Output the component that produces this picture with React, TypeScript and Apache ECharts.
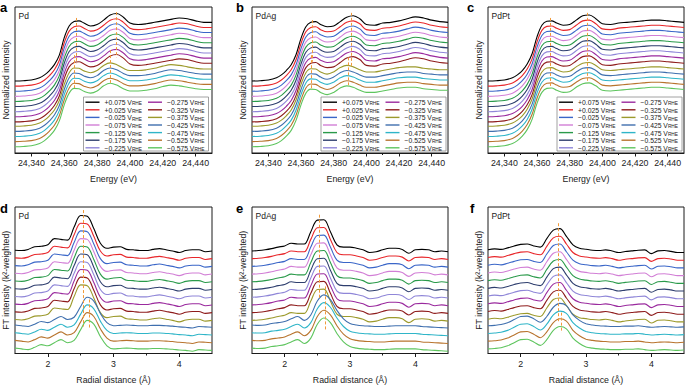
import React, { useEffect, useRef } from 'react';
import * as echarts from 'echarts';

// ---------- data ----------
const potentials = ['+0.075', '+0.025', '\u22120.025', '\u22120.075', '\u22120.125', '\u22120.175', '\u22120.225',
  '\u22120.275', '\u22120.325', '\u22120.375', '\u22120.425', '\u22120.475', '\u22120.525', '\u22120.575'];

const seriesColors = ['#000000', '#e8262a', '#3a66c8', '#d27fd6', '#2a9a4a', '#2e3e6e', '#8f86d8',
  '#9a2a9e', '#8e1c1c', '#9c9a2c', '#3f6fae', '#2fb5c8', '#b8742e', '#5ec55e'];

const energy = [24330, 24335, 24340, 24345, 24348, 24351, 24354, 24357, 24360, 24363, 24366, 24369, 24372, 24376,
  24380, 24384, 24388, 24392, 24396, 24400, 24405, 24410, 24415, 24420, 24425, 24430, 24435, 24440, 24445, 24450];

const radialDistance = [1.5, 1.6, 1.7, 1.8, 1.9, 2.0, 2.1, 2.2, 2.3, 2.4, 2.5, 2.6, 2.7, 2.8, 2.9, 3.0, 3.1, 3.2,
  3.3, 3.4, 3.5, 3.6, 3.7, 3.8, 3.9, 4.0, 4.1, 4.2, 4.3, 4.4, 4.5];

// vertical offsets used to stack the spectra (top curve first)
const xanesOffsets = [0.91, 0.84, 0.77, 0.70, 0.63, 0.56, 0.49, 0.42, 0.35, 0.28, 0.21, 0.14, 0.07, 0];
const exafsOffsets = [1.3, 1.2, 1.1, 1.0, 0.9, 0.8, 0.7, 0.6, 0.5, 0.4, 0.3, 0.2, 0.1, 0];

const energyTickLabels = [24340, 24360, 24380, 24400, 24420, 24440];
const energyMinorTicks = [24350, 24370, 24390, 24410, 24430];
const radialTickLabels = [2, 3, 4];
const radialMinorTicks = [2.5, 3.5];

// XANES spectra (normalized intensity) – upper potentials / lower potentials
const pdXanesUpper = [0.076, 0.08, 0.09, 0.12, 0.16, 0.22, 0.30, 0.43, 0.67, 0.83, 0.89, 0.90, 0.87, 0.83, 0.85,
  0.91, 0.98, 1.00, 0.95, 0.87, 0.85, 0.86, 0.88, 0.90, 0.92, 0.94, 0.93, 0.90, 0.88, 0.88];
const pdXanesLower = [0.086, 0.09, 0.10, 0.13, 0.17, 0.23, 0.31, 0.44, 0.66, 0.82, 0.885, 0.88, 0.845, 0.82, 0.85,
  0.92, 0.955, 0.93, 0.88, 0.85, 0.85, 0.86, 0.88, 0.91, 0.93, 0.92, 0.90, 0.88, 0.87, 0.87];
const pdAgXanesUpper = [0.076, 0.08, 0.09, 0.12, 0.16, 0.22, 0.30, 0.44, 0.66, 0.82, 0.88, 0.89, 0.85, 0.82, 0.83,
  0.89, 0.95, 0.97, 0.93, 0.85, 0.84, 0.87, 0.88, 0.90, 0.93, 0.955, 0.94, 0.91, 0.89, 0.88];
const pdAgXanesLower = [0.086, 0.09, 0.10, 0.13, 0.17, 0.23, 0.31, 0.45, 0.66, 0.82, 0.875, 0.87, 0.83, 0.80, 0.83,
  0.89, 0.92, 0.90, 0.86, 0.83, 0.83, 0.85, 0.87, 0.89, 0.90, 0.90, 0.88, 0.87, 0.86, 0.86];
const pdPtXanesUpper = [0.076, 0.08, 0.09, 0.12, 0.16, 0.22, 0.31, 0.45, 0.68, 0.84, 0.895, 0.90, 0.87, 0.84, 0.85,
  0.91, 0.97, 0.98, 0.93, 0.86, 0.85, 0.87, 0.88, 0.89, 0.90, 0.91, 0.91, 0.90, 0.89, 0.88];
const pdPtXanesLower = [0.086, 0.09, 0.10, 0.13, 0.17, 0.23, 0.32, 0.46, 0.68, 0.83, 0.885, 0.89, 0.86, 0.83, 0.84,
  0.90, 0.95, 0.96, 0.92, 0.86, 0.85, 0.86, 0.87, 0.88, 0.89, 0.90, 0.90, 0.89, 0.88, 0.87];

// EXAFS FT magnitudes – upper potentials / lower potentials
const pdExafsUpper = [0.04, 0.035, 0.05, 0.085, 0.09, 0.11, 0.19, 0.18, 0.17, 0.34, 0.49, 0.48, 0.32, 0.13, 0.065,
  0.08, 0.085, 0.05, 0.045, 0.035, 0.035, 0.05, 0.06, 0.045, 0.03, 0.01, 0.035, 0.045, 0.045, 0.02, 0.03];
const pdExafsLower = [0.07, 0.06, 0.05, 0.08, 0.115, 0.10, 0.14, 0.18, 0.14, 0.17, 0.31, 0.43, 0.38, 0.22, 0.10,
  0.06, 0.065, 0.07, 0.065, 0.06, 0.06, 0.065, 0.065, 0.06, 0.055, 0.045, 0.04, 0.03, 0.05, 0.045, 0.04];
const pdAgExafsUpper = [0.03, 0.035, 0.045, 0.06, 0.08, 0.095, 0.13, 0.12, 0.12, 0.28, 0.43, 0.435, 0.28, 0.11, 0.08,
  0.08, 0.065, 0.045, 0.01, 0.02, 0.045, 0.065, 0.065, 0.05, 0.0, 0.045, 0.05, 0.045, 0.02, 0.03, 0.02];
const pdAgExafsLower = [0.07, 0.065, 0.07, 0.09, 0.10, 0.115, 0.15, 0.18, 0.13, 0.20, 0.38, 0.46, 0.40, 0.26, 0.15,
  0.09, 0.07, 0.06, 0.055, 0.05, 0.05, 0.055, 0.06, 0.06, 0.06, 0.06, 0.05, 0.045, 0.04, 0.035, 0.03];
const pdPtExafsUpper = [0.045, 0.057, 0.05, 0.07, 0.095, 0.115, 0.12, 0.095, 0.08, 0.19, 0.30, 0.32, 0.22, 0.11, 0.065,
  0.052, 0.04, 0.035, 0.044, 0.03, 0.01, 0.022, 0.031, 0.04, 0.044, -0.005, 0.031, 0.035, 0.025, 0.01, 0.01];
const pdPtExafsLower = [0.06, 0.065, 0.075, 0.10, 0.14, 0.18, 0.185, 0.15, 0.105, 0.18, 0.30, 0.35, 0.32, 0.20, 0.13,
  0.085, 0.07, 0.06, 0.055, 0.05, 0.05, 0.055, 0.055, 0.06, 0.05, 0.04, 0.045, 0.05, 0.045, 0.04, 0.045];

// peak guide lines: [position, upper value, lower value]
const pdXanesPeaks = [[24367.5, 1.85, 1.23], [24366, 1.34, 0.89], [24391.5, 1.93, 1.31], [24388, 1.41, 0.96]];
const pdAgXanesPeaks = [[24367, 1.82, 1.25], [24366, 1.34, 0.86], [24391, 1.92, 1.18], [24389, 1.31, 0.93]];
const pdPtXanesPeaks = [[24368, 1.85, 0.89], [24391, 1.92, 0.96]];
const pdExafsPeaks = [[2.54, 1.86, 0.35], [2.63, 0.70, 0.33]];
const pdAgExafsPeaks = [[2.53, 1.80, 0.70], [2.62, 0.87, 0.31]];
const pdPtExafsPeaks = [[2.57, 1.69, 0.40], [2.62, 0.53, 0.27]];

// ---------- layout / style ----------
const FONT = '"Liberation Sans", Arial, Helvetica, sans-serif';
const colLefts = [15, 252, 488];
const colWidths = [197, 196, 196];
const rowTops = [7, 207];
const rowHeights = [146, 147];
const letterX = [0, 236, 467, 0, 236, 470];
const legendBoxLefts = [83.5, 321, 557];

const panels = [
  { letter: 'a', sample: 'Pd', kind: 'xanes', upper: pdXanesUpper, lower: pdXanesLower, peaks: pdXanesPeaks },
  { letter: 'b', sample: 'PdAg', kind: 'xanes', upper: pdAgXanesUpper, lower: pdAgXanesLower, peaks: pdAgXanesPeaks },
  { letter: 'c', sample: 'PdPt', kind: 'xanes', upper: pdPtXanesUpper, lower: pdPtXanesLower, peaks: pdPtXanesPeaks },
  { letter: 'd', sample: 'Pd', kind: 'exafs', upper: pdExafsUpper, lower: pdExafsLower, peaks: pdExafsPeaks },
  { letter: 'e', sample: 'PdAg', kind: 'exafs', upper: pdAgExafsUpper, lower: pdAgExafsLower, peaks: pdAgExafsPeaks },
  { letter: 'f', sample: 'PdPt', kind: 'exafs', upper: pdPtExafsUpper, lower: pdPtExafsLower, peaks: pdPtExafsPeaks },
];

function withComma(v: number) {
  return String(v).replace(/\B(?=(\d{3})+(?!\d))/g, ',');
}

function buildOption() {
  const grid: any[] = [];
  const xAxis: any[] = [];
  const yAxis: any[] = [];
  const series: any[] = [];
  const legend: any[] = [];
  const graphic: any[] = [];

  panels.forEach((p, pi) => {
    const col = pi % 3;
    const row = Math.floor(pi / 3);
    const isX = p.kind === 'xanes';
    grid.push({
      left: colLefts[col], top: rowTops[row], width: colWidths[col], height: rowHeights[row],
      show: true, borderColor: '#1a1a1a', borderWidth: 1, containLabel: false,
    });
    const xs = isX ? energy : radialDistance;
    const xmin = isX ? 24330 : 1.5;
    const xmax = isX ? 24450 : 4.5;
    const majors = isX ? energyTickLabels : radialTickLabels;
    const minors = isX ? energyMinorTicks : radialMinorTicks;
    xAxis.push({
      type: 'value', gridIndex: pi, min: xmin, max: xmax, position: 'bottom',
      axisLine: { show: true, onZero: false, lineStyle: { color: '#1a1a1a', width: 1 } },
      axisTick: { show: true, inside: false, length: 3.5, customValues: majors, lineStyle: { color: '#1a1a1a', width: 1 } },
      axisLabel: {
        show: true, customValues: majors, margin: 5.5, fontSize: 8.8, color: '#222', fontFamily: FONT,
        formatter: (v: number) => (isX ? withComma(v) : String(v)),
      },
      splitLine: { show: false },
      name: isX ? 'Energy (eV)' : 'Radial distance (\u00c5)',
      nameLocation: 'middle', nameGap: 21.5,
      nameTextStyle: { fontSize: 8.8, color: '#222', fontFamily: FONT },
    });
    xAxis.push({
      type: 'value', gridIndex: pi, min: xmin, max: xmax, position: 'bottom',
      axisLine: { show: false, onZero: false },
      axisTick: { show: true, inside: false, length: 2, customValues: minors, lineStyle: { color: '#1a1a1a', width: 1 } },
      axisLabel: { show: false },
      splitLine: { show: false },
    });
    yAxis.push({
      type: 'value', gridIndex: pi, min: 0, max: isX ? 2.0 : 1.9,
      axisLine: { show: false }, axisTick: { show: false }, axisLabel: { show: false }, splitLine: { show: false },
      name: isX ? 'Normalized intensity' : 'FT intensity (k\u00b2-weighted)',
      nameLocation: 'middle', nameGap: 5,
      nameTextStyle: { fontSize: 8.8, color: '#222', fontFamily: FONT },
    });

    const offsets = isX ? xanesOffsets : exafsOffsets;
    const upperCount = isX ? 9 : 10;
    potentials.forEach((name, i) => {
      const shape = i < upperCount ? p.upper : p.lower;
      const s: any = {
        type: 'line', name, xAxisIndex: pi * 2, yAxisIndex: pi,
        data: xs.map((x, k) => [x, +(shape[k] + offsets[i]).toFixed(4)]),
        symbol: 'none', showSymbol: false, smooth: 0.35, silent: true,
        lineStyle: { color: seriesColors[i], width: 1.1 },
        itemStyle: { color: seriesColors[i] },
      };
      if (i === 0) {
        s.markLine = {
          silent: true, symbol: ['none', 'none'], label: { show: false },
          lineStyle: { color: '#f29a3a', type: [3, 2], width: 1 },
          emphasis: { disabled: true },
          data: p.peaks.map((pk) => [{ coord: [pk[0], pk[1]] }, { coord: [pk[0], pk[2]] }]),
        };
      }
      series.push(s);
    });

    // letters and sample names
    graphic.push({
      type: 'text', x: letterX[pi], y: row === 0 ? 7 : 208, z: 10,
      style: { text: p.letter, font: `bold 13px ${FONT}`, fill: '#000', verticalAlign: 'middle' },
    });
    graphic.push({
      type: 'text', x: colLefts[col] + 3.5, y: rowTops[row] + 9, z: 10,
      style: { text: p.sample, font: `8.5px ${FONT}`, fill: '#222', verticalAlign: 'middle' },
    });

    if (isX) {
      const bx = legendBoxLefts[col];
      graphic.push({
        type: 'rect', z: 3,
        shape: { x: bx, y: 97, width: 125, height: 54 },
        style: { fill: '#ffffff', stroke: '#8a8a8a', lineWidth: 0.8 },
      });
      [0, 1].forEach((c) => {
        legend.push({
          show: true, orient: 'vertical', left: bx + (c === 0 ? 2 : 64.5), top: 98,
          padding: 0, itemGap: -0.8, itemWidth: 14, itemHeight: 1.4, icon: 'rect', selectedMode: false, z: 5,
          data: potentials.slice(c * 7, c * 7 + 7),
          formatter: (name: string) => `{v|${name} V}{s|RHE}`,
          textStyle: {
            color: '#222', fontFamily: FONT,
            rich: {
              v: { fontSize: 6.8, lineHeight: 6.2, verticalAlign: 'top', fontFamily: FONT, color: '#222' },
              s: { fontSize: 4.8, lineHeight: 4, padding: [3.4, 0, 0, 0], fontFamily: FONT, color: '#222' },
            },
          },
        });
      });
    }
  });

  return {
    animation: false,
    backgroundColor: '#ffffff',
    textStyle: { fontFamily: FONT },
    grid, xAxis, yAxis, series, legend, graphic,
  };
}

export default function App() {
  const ref = useRef<HTMLDivElement>(null);
  useEffect(() => {
    if (!ref.current) return;
    const chart = echarts.init(ref.current, undefined, { renderer: 'svg' });
    chart.setOption(buildOption() as any);
    return () => chart.dispose();
  }, []);
  return <div ref={ref} style={{ position: 'absolute', left: 0, top: 0, width: 685, height: 385 }} />;
}
